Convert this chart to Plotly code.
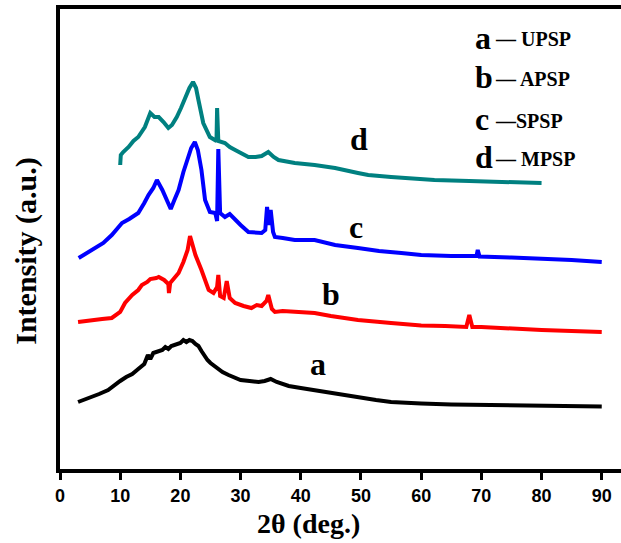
import plotly.graph_objects as go

# ---- data (intensity in arbitrary units) ----
a_x = [3, 4, 5, 6.5, 8, 9, 10, 11, 12, 13, 14, 14.6, 15, 15.5, 16, 16.5, 17, 17.5, 18, 18.5, 19, 19.5, 20, 20.5, 21, 21.5, 22,
       22.5, 23, 23.5, 24, 24.5, 25, 26, 27, 28, 29, 30, 31.5, 33, 34, 35, 36, 37, 38, 40, 42, 45, 47.5, 50, 52.5,
       55, 57.5, 60, 65, 70, 75, 80, 85, 90]
a_y = [69, 71, 73, 77, 81, 86, 90, 94, 97, 102, 107, 116, 112, 118, 119, 121, 121, 124, 122, 125, 126, 128, 128, 131, 129, 131, 130,
       127, 125, 120, 115, 111, 108, 103, 99, 96, 93, 91, 90, 89, 90, 92, 89, 87, 85, 83, 81, 78, 75, 73, 71,
       69, 68, 67.5, 66.5, 66, 65.5, 65, 65, 64.5]

b_x = [3, 5, 7, 8.6, 10, 10.8, 12, 13, 13.6, 14.5, 15, 16, 16.4, 17.3, 18, 18.1, 18.3, 19, 19.7, 20.5, 21.2, 21.6, 22, 22.5,
       23.5, 24.2, 24.7, 25.5, 26.1, 26.3, 26.6, 27.2, 27.7, 28.2, 29.1, 30.5, 31.8, 32.7, 33.5, 34.3, 34.6, 35.2,
       35.7, 37, 39, 42.3, 45, 49.5, 55, 60, 64, 67.5, 68, 68.5, 70, 75, 80, 85, 90]
b_y = [149, 151, 152, 153, 159, 168, 176, 181, 186, 189, 192, 193, 194, 191, 187, 178, 188, 193, 198, 209, 221, 235, 226, 216,
       201, 189, 181, 178, 184, 196, 175, 173, 190, 173, 168, 165, 163, 166, 165, 170, 176, 162,
       159, 160, 159, 158, 155, 151, 148, 145.5, 145, 144, 156, 144, 144, 142, 141, 140, 139]

c_x = [3.1, 4.5, 5.9, 7.2, 8.6, 10.3, 11.5, 12.3, 13.0, 14.0, 14.7, 15.5, 16.1, 17.0, 18.0, 18.4, 19.0, 19.7, 20.5, 21.1,
       21.8, 22.4, 22.9, 23.5, 24.1, 24.9, 25.8, 26.1, 26.3, 26.6, 27.4, 28.2, 29.1, 30, 31.3, 32.5, 33.5, 34.1,
       34.4, 34.7, 35.0, 35.4, 35.7, 37, 39, 42.3, 45.7, 49.5, 53, 56.7, 60, 65, 69.2, 69.4, 69.7, 75, 78.8, 85, 90]
c_y = [213, 218, 223, 228, 236, 248, 252, 255, 258, 268, 276, 283, 291, 281, 266, 262, 271, 281, 299, 311,
       323, 329, 321, 301, 271, 259, 258, 250, 322, 258, 254, 257, 251, 246, 239, 238, 238, 241,
       264, 246, 261, 239, 234, 233, 231, 231, 226, 223, 220, 218, 216, 215, 215, 221, 214.5, 213.5, 212.7, 211, 209]

d_x = [10.0, 10.1, 10.5, 11.4, 12.2, 13.0, 14.1, 15.0, 15.7, 16.4, 17.2, 18.0, 18.6, 19.4, 20.1, 20.8, 21.5, 22.1, 22.6,
       23.0, 23.8, 24.9, 25.6, 26.0, 26.1, 26.3, 27.4, 28.2, 29.1, 30.2, 31.3, 32.5, 33.5, 34.6, 35.5, 36.3, 39,
       42.3, 45.7, 49.5, 51.2, 55, 62.2, 68, 73.3, 80]
d_y = [306, 316, 319, 324, 330, 334, 344, 358, 354, 354, 349, 343, 346, 354, 363, 374, 383, 389, 383,
       371, 348, 334, 331, 330, 363, 330, 328, 324, 321, 318, 314, 314, 315, 319, 314, 311, 308,
       306, 303, 298, 296, 294, 291, 290, 289, 288]

series = [
    ("a", a_x, a_y, "#000000"),
    ("b", b_x, b_y, "#ff0000"),
    ("c", c_x, c_y, "#0000ff"),
    ("d", d_x, d_y, "#008080"),
]
curve_labels = {"a": (42.8, 107), "b": (45.1, 177), "c": (49.1, 244), "d": (49.6, 332)}
legend_rows = [("a", "— UPSP"), ("b", "— APSP"), ("c", "—SPSP"), ("d", "— MPSP")]
legend_y_paper = [0.938, 0.852, 0.760, 0.678]
x_ticks = [0, 10, 20, 30, 40, 50, 60, 70, 80, 90]

SERIF = "Liberation Serif"

fig = go.Figure()
for name, xs, ys, col in series:
    fig.add_trace(go.Scatter(x=xs, y=ys, mode="lines", name=name,
                             line=dict(color=col, width=4), showlegend=False))

ann = []
for k, (lx, ly) in curve_labels.items():
    ann.append(dict(x=lx, y=ly, xref="x", yref="y", text="<b>%s</b>" % k, showarrow=False,
                    font=dict(family=SERIF, size=32, color="black")))
for (letter, rest), py in zip(legend_rows, legend_y_paper):
    ann.append(dict(x=0.737, y=py, xref="paper", yref="paper", xanchor="left", yanchor="middle",
                    text="<b>%s</b>" % letter, showarrow=False,
                    font=dict(family=SERIF, size=32, color="black")))
    ann.append(dict(x=0.772, y=py - 0.004, xref="paper", yref="paper", xanchor="left", yanchor="middle",
                    text="<b>%s</b>" % rest, showarrow=False,
                    font=dict(family=SERIF, size=20, color="black")))
ann.append(dict(x=41.3, y=-0.118, xref="x", yref="paper", text="<b>2θ (deg.)</b>", showarrow=False,
                yanchor="middle", font=dict(family=SERIF, size=28, color="black")))
ann.append(dict(x=-0.061, y=0.474, xref="paper", yref="paper", text="<b>Intensity (a.u.)</b>",
                showarrow=False, textangle=-90, xanchor="center", yanchor="middle",
                font=dict(family=SERIF, size=30, color="black")))

fig.update_layout(
    width=621, height=543,
    margin=dict(l=60, r=0, t=9, b=74),
    paper_bgcolor="white", plot_bgcolor="white",
    annotations=ann,
    xaxis=dict(range=[0, 93.2], tickvals=x_ticks, ticktext=[str(v) for v in x_ticks],
               showline=True, linewidth=4, linecolor="black", mirror=True,
               ticks="outside", ticklen=7, tickwidth=3, tickcolor="black",
               showgrid=False, zeroline=False,
               tickfont=dict(family="Liberation Sans", size=18, color="black", weight="bold")),
    yaxis=dict(range=[2, 462], showline=True, linewidth=4, linecolor="black",
               showticklabels=False, ticks="", showgrid=False, zeroline=False),
)

fig.write_html("out.html")
